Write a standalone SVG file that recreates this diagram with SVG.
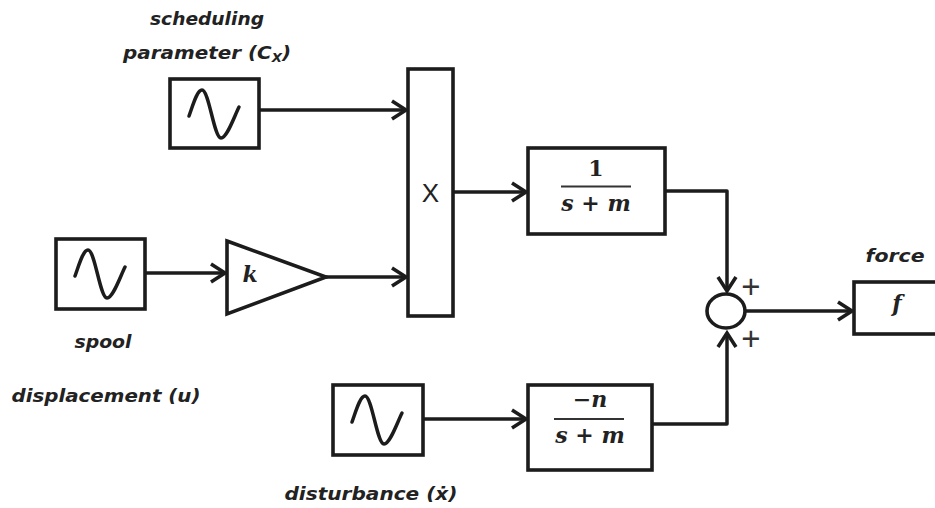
<svg xmlns="http://www.w3.org/2000/svg" width="935" height="508" viewBox="0 0 935 508">
<style>
.b{fill:#fff;stroke:#1c1c1c;stroke-width:3.6}
.w{fill:none;stroke:#1c1c1c;stroke-width:3.5;stroke-linejoin:round}
.s{fill:none;stroke:#1c1c1c;stroke-width:3.5;stroke-linecap:round}
.l{font-family:"DejaVu Sans",sans-serif;font-weight:bold;font-style:italic;font-size:18px;fill:#222;text-anchor:middle}
.m{font-family:"DejaVu Serif",serif;font-weight:bold;font-style:italic;font-size:22px;fill:#222;text-anchor:middle}
.p{font-family:"Liberation Sans",sans-serif;font-size:33px;fill:#333;text-anchor:middle}
.r{stroke:#333;stroke-width:2;fill:none}
</style>
<defs>
<marker id="a" markerUnits="userSpaceOnUse" markerWidth="20" markerHeight="24" refX="16" refY="12" orient="auto"><path d="M2 3L16 12L2 21" fill="none" stroke="#1c1c1c" stroke-width="3.6"/></marker>
<path id="w" d="M0 37C4 26 8 11 13 11C20 11 25 59 32 59C38 59 45 38 50 28"/>
</defs>
<g id="connectors">
<path class="w" marker-end="url(#a)" d="M259 110H406"/>
<path class="w" marker-end="url(#a)" d="M145 273H225"/>
<path class="w" marker-end="url(#a)" d="M326 277H406"/>
<path class="w" marker-end="url(#a)" d="M453 192H526"/>
<path class="w" marker-end="url(#a)" d="M423 419H526"/>
<path class="w" marker-end="url(#a)" d="M665 191H727V291"/>
<path class="w" marker-end="url(#a)" d="M652 424H727V333"/>
<path class="w" marker-end="url(#a)" d="M746 311H852"/>
</g>
<g id="source-c"><rect class="b" x="170" y="79" width="89" height="69"/><use href="#w" class="s" x="189" y="79"/></g>
<g id="source-u"><rect class="b" x="56" y="239" width="89" height="70"/><use href="#w" class="s" x="75" y="239"/></g>
<g id="source-d"><rect class="b" x="333" y="385" width="90" height="70"/><use href="#w" class="s" x="352" y="385"/></g>
<g id="gain"><path class="b" d="M227 241L326 277L227 314Z"/><text class="m" x="250" y="282">k</text></g>
<g id="multiplier"><rect class="b" x="408" y="69" width="45" height="247"/><text x="430.500" y="202" font-family="Liberation Sans,sans-serif" font-size="26" fill="#222" text-anchor="middle">X</text></g>
<g id="tf1"><rect class="b" x="528" y="148" width="137" height="86"/><text class="m" x="596" y="176" style="font-style:normal">1</text><path class="r" d="M561 186.500H631"/><text class="m" x="596" y="211">s + m</text></g>
<g id="tf2"><rect class="b" x="528" y="385" width="124" height="85"/><text class="m" x="590" y="407">−n</text><path class="r" d="M554 419H624"/><text class="m" x="590" y="443">s + m</text></g>
<g id="sum"><ellipse class="b" cx="726" cy="311" rx="19" ry="17"/><text class="p" x="751" y="298">+</text><text class="p" x="751" y="350">+</text></g>
<g id="output"><rect class="b" x="854" y="282" width="84" height="52"/><text class="m" x="897" y="311">f</text></g>
<g id="labels">
<text class="l" x="207" y="25" textLength="114" lengthAdjust="spacingAndGlyphs">scheduling</text>
<text class="l" x="207" y="59" textLength="168" lengthAdjust="spacingAndGlyphs">parameter (C<tspan font-size="12" dy="3">X</tspan><tspan dy="-3">)</tspan></text>
<text class="l" x="103" y="348" textLength="57" lengthAdjust="spacingAndGlyphs">spool</text>
<text class="l" x="106" y="402" textLength="189" lengthAdjust="spacingAndGlyphs">displacement (u)</text>
<text class="l" x="371" y="500" textLength="173" lengthAdjust="spacingAndGlyphs">disturbance (ẋ)</text>
<text class="l" x="895" y="262" textLength="59" lengthAdjust="spacingAndGlyphs">force</text>
</g>
</svg>
